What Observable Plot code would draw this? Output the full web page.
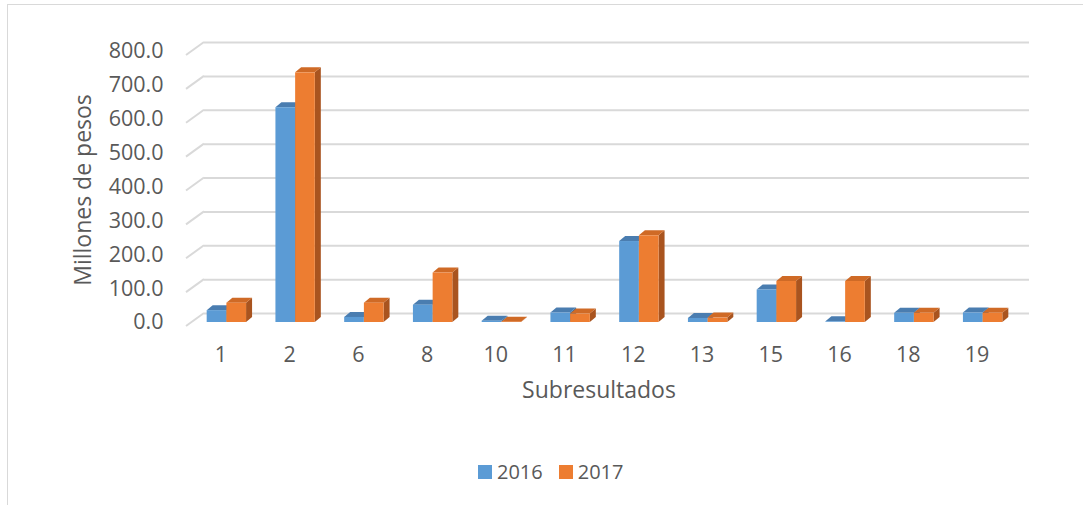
<!DOCTYPE html>
<html>
<head>
<meta charset="utf-8">
<script src="https://cdn.jsdelivr.net/npm/d3@7"></script>
<script src="https://cdn.jsdelivr.net/npm/@observablehq/plot@0.6"></script>
<style>
  html, body { margin: 0; padding: 0; background: #fff; }
  body { width: 1083px; height: 505px; position: relative; overflow: hidden; font-family: "Open Sans", sans-serif; }
  #frame { position: absolute; left: 7px; top: 4px; width: 1090px; height: 520px; border: 1px solid #d9d9d9; box-sizing: border-box; }
  #chart { position: absolute; left: 0; top: 0; }
  #legend { position: absolute; top: 458px; left: 478px; display: flex; align-items: center; font-size: 20px; color: #595959; }
  #legend .sw { width: 14px; height: 14px; display: inline-block; margin-right: 5px; }
  #legend .item { display: flex; align-items: center; margin-right: 16px; }
</style>
</head>
<body>
<div id="frame"></div>
<div id="chart"></div>
<div id="legend"></div>
<script>
const categories = ["1", "2", "6", "8", "10", "11", "12", "13", "15", "16", "18", "19"];
const values2016 = [35, 634, 15, 51, 4, 28, 239, 12, 96, 2, 27, 28];
const values2017 = [57, 737, 57, 146, 1, 25, 256, 13, 121, 121, 27, 27];
const years = ["2016", "2017"];
const yTicks = [0, 100, 200, 300, 400, 500, 600, 700, 800];
const colors = ["#5b9bd5", "#ed7d31"];
const topColors = ["#4a7db0", "#cf6a26"];
const sideColors = ["#3d6a96", "#a9541f"];

const rows2016 = categories.map((c, i) => ({cat: c, year: years[0], value: values2016[i]}));
const rows2017 = categories.map((c, i) => ({cat: c, year: years[1], value: values2017[i]}));

const DX = 6, DY = -5;      // bar depth
const BX = 18, BY = -13;    // floor depth (front edge to back wall)
const SHIFT_X = 6;          // bars sit slightly behind the floor front edge

// custom mark: diagonal floor/wall edges for the gridlines
function gridDiagonals(index, scales, values, dimensions) {
  const g = d3.create("svg:g");
  const y = scales.y;
  const x0 = dimensions.marginLeft;
  for (const t of yTicks) {
    g.append("line")
      .attr("x1", x0).attr("y1", y(t) + 4)
      .attr("x2", x0 + BX).attr("y2", y(t) + 4 + BY)
      .attr("stroke", "#d9d9d9").attr("stroke-width", 2);
  }
  return g.node();
}

// custom mark: top and side faces of the 3D columns for one series
function faces(rows, s) {
  return function(index, scales) {
    const g = d3.create("svg:g");
    const x = scales.x, y = scales.y;
    const bw = x.bandwidth();
    const half = bw / 2;
    for (const r of rows) {
      const xl = x(r.cat) + SHIFT_X + s * half;
      const xr = xl + half;
      const yt = y(r.value), yb = y(0);
      g.append("polygon")
        .attr("points", [[xr, yt], [xr + DX, yt + DY], [xr + DX, yb + DY], [xr, yb]].map(p => p.join(",")).join(" "))
        .attr("fill", sideColors[s]);
      g.append("polygon")
        .attr("points", [[xl, yt], [xl + DX, yt + DY], [xr + DX, yt + DY], [xr, yt]].map(p => p.join(",")).join(" "))
        .attr("fill", topColors[s]);
    }
    return g.node();
  };
}

const padInner = 0.427;
const halfW = 68.8 * (1 - padInner) / 2;

const chart = Plot.plot({
  width: 1083,
  height: 430,
  marginLeft: 186,
  marginRight: 72,
  marginTop: 51,
  marginBottom: 108,
  style: {fontFamily: "Open Sans, sans-serif", fontSize: "21.5px", color: "#595959", background: "transparent"},
  x: {domain: categories, paddingInner: padInner, paddingOuter: padInner / 2, round: false, label: null, tickSize: 0, tickPadding: 24},
  y: {domain: [0, 800], ticks: yTicks, tickFormat: d => d.toFixed(1), label: null, tickSize: 0, tickPadding: 23},
  marks: [
    Plot.ruleY(yTicks, {dx: BX, dy: BY + 4, stroke: "#d9d9d9", strokeWidth: 2}),
    gridDiagonals,
    faces(rows2016, 0),
    Plot.barY(rows2016, {x: "cat", y: "value", fill: colors[0], insetRight: halfW, dx: SHIFT_X}),
    faces(rows2017, 1),
    Plot.barY(rows2017, {x: "cat", y: "value", fill: colors[1], insetLeft: halfW, dx: SHIFT_X}),
    Plot.text(["Subresultados"], {frameAnchor: "bottom", dy: 75, fontSize: 23, fill: "#595959"}),
    Plot.text(["Millones de pesos"], {frameAnchor: "left", textAnchor: "middle", dx: -103, dy: 3, rotate: -90, fontSize: 23, fill: "#595959"})
  ]
});
document.getElementById("chart").appendChild(chart);

const legend = d3.select("#legend");
years.forEach((yr, i) => {
  const item = legend.append("div").attr("class", "item");
  item.append("span").attr("class", "sw").style("background", colors[i]);
  item.append("span").text(yr);
});
</script>
</body>
</html>
